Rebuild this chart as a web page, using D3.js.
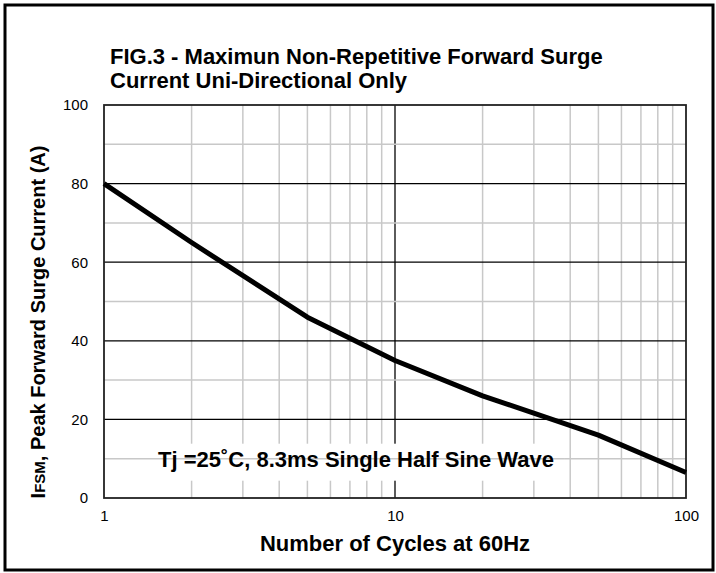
<!DOCTYPE html>
<html>
<head>
  <meta charset="utf-8">
  <title>FIG.3 Surge Current</title>
  <style>
    body { margin: 0; background: #fff; }
    svg { display: block; font-family: "Liberation Sans", Arial, sans-serif; }
    .axis text { font-size: 15px; fill: #000; }
    .axis path, .axis line { display: none; }
  </style>
</head>
<body>
  <svg width="716" height="573"></svg>
  <script src="https://cdnjs.cloudflare.com/ajax/libs/d3/7.8.5/d3.min.js"></script>
  <script>
    // values
    const cycles = [1, 2, 5, 10, 20, 50, 100];
    const surgeCurrent = [80, 65, 46, 35, 26, 16, 6.5];
    const yTicks = [0, 20, 40, 60, 80, 100];
    const yMinor = [10, 30, 50, 70, 90];
    const xTicks = [1, 10, 100];
    const titleLines = ["FIG.3 - Maximun Non-Repetitive Forward Surge", "Current Uni-Directional Only"];
    const note = "Tj =25˚C, 8.3ms Single Half Sine Wave";

    const svg = d3.select("svg");
    const margin = {left: 104, right: 30, top: 105, bottom: 75};
    const W = +svg.attr("width"), H = +svg.attr("height");

    // outer frame
    svg.append("rect")
       .attr("x", 5).attr("y", 5)
       .attr("width", W - 8).attr("height", H - 8)
       .attr("fill", "none").attr("stroke", "#000").attr("stroke-width", 3);

    let x = d3.scaleLog().domain([1, 100]).range([margin.left, W - margin.right]);
    let y = d3.scaleLinear().domain([0, 100]).range([H - margin.bottom, margin.top]);

    // title
    svg.append("g").selectAll("text")
       .data(titleLines)
       .enter().append("text")
       .attr("x", 110)
       .attr("y", (d, i) => 64 + i * 24)
       .attr("font-size", 22).attr("font-weight", "bold")
       .text(d => d);

    // grid
    let grid = svg.append("g");
    grid.selectAll(".vx")
        .data(x.ticks().filter(d => d !== 1 && d !== 100))
        .enter().append("line")
        .attr("x1", d => x(d)).attr("x2", d => x(d))
        .attr("y1", y(0)).attr("y2", y(100))
        .attr("stroke", d => d === 10 ? "#333" : "#c8c8c8")
        .attr("stroke-width", d => d === 10 ? 1.6 : 1.5);
    grid.selectAll(".hm")
        .data(yMinor)
        .enter().append("line")
        .attr("x1", x(1)).attr("x2", x(100))
        .attr("y1", d => y(d)).attr("y2", d => y(d))
        .attr("stroke", "#c8c8c8").attr("stroke-width", 1.5);
    grid.selectAll(".hM")
        .data(yTicks.filter(d => d > 0 && d < 100))
        .enter().append("line")
        .attr("x1", x(1)).attr("x2", x(100))
        .attr("y1", d => y(d)).attr("y2", d => y(d))
        .attr("stroke", "#000").attr("stroke-width", 1.2);

    // plot frame
    svg.append("rect")
       .attr("x", x(1)).attr("y", y(100))
       .attr("width", x(100) - x(1)).attr("height", y(0) - y(100))
       .attr("fill", "none").attr("stroke", "#222").attr("stroke-width", 1.8);

    // annotation box
    let noteG = svg.append("g");
    let noteText = noteG.append("text")
       .attr("x", 158).attr("y", y(10) + 8)
       .attr("font-size", 22).attr("font-weight", "bold")
       .text(note);
    let bb = noteText.node().getBBox();
    noteG.insert("rect", "text")
       .attr("x", bb.x - 11).attr("y", y(10) - 15)
       .attr("width", bb.width + 22).attr("height", 37)
       .attr("fill", "#fff");
    noteG.insert("line", "text")
       .attr("x1", bb.x - 11).attr("x2", bb.x + bb.width + 11)
       .attr("y1", y(10)).attr("y2", y(10))
       .attr("stroke", "#c8c8c8").attr("stroke-width", 1.5);

    // curve
    let pts = cycles.map((c, i) => [c, surgeCurrent[i]]);
    svg.append("path")
       .datum(pts)
       .attr("fill", "none").attr("stroke", "#000").attr("stroke-width", 5)
       .attr("stroke-linejoin", "round")
       .attr("d", d3.line().x(d => x(d[0])).y(d => y(d[1])));

    // axes
    svg.append("g").attr("class", "axis")
       .attr("transform", "translate(" + (x(1) - 2) + ",0)")
       .call(d3.axisLeft(y).tickValues(yTicks).tickSize(0).tickPadding(14));
    svg.append("g").attr("class", "axis")
       .attr("transform", "translate(0," + y(0) + ")")
       .call(d3.axisBottom(x).tickValues(xTicks).tickFormat(d3.format("d")).tickSize(0).tickPadding(12));

    // axis titles
    svg.append("text")
       .attr("x", (x(1) + x(100)) / 2).attr("y", 551)
       .attr("text-anchor", "middle")
       .attr("font-size", 22).attr("font-weight", "bold")
       .text("Number of Cycles at 60Hz");

    let yt = svg.append("text")
       .attr("transform", "translate(45," + 322 + ") rotate(-90)")
       .attr("text-anchor", "middle")
       .attr("font-size", 20).attr("font-weight", "bold");
    yt.append("tspan").text("I");
    yt.append("tspan").attr("font-size", 15).text("FSM");
    yt.append("tspan").text(",  Peak Forward Surge Current (A)");
  </script>
</body>
</html>
